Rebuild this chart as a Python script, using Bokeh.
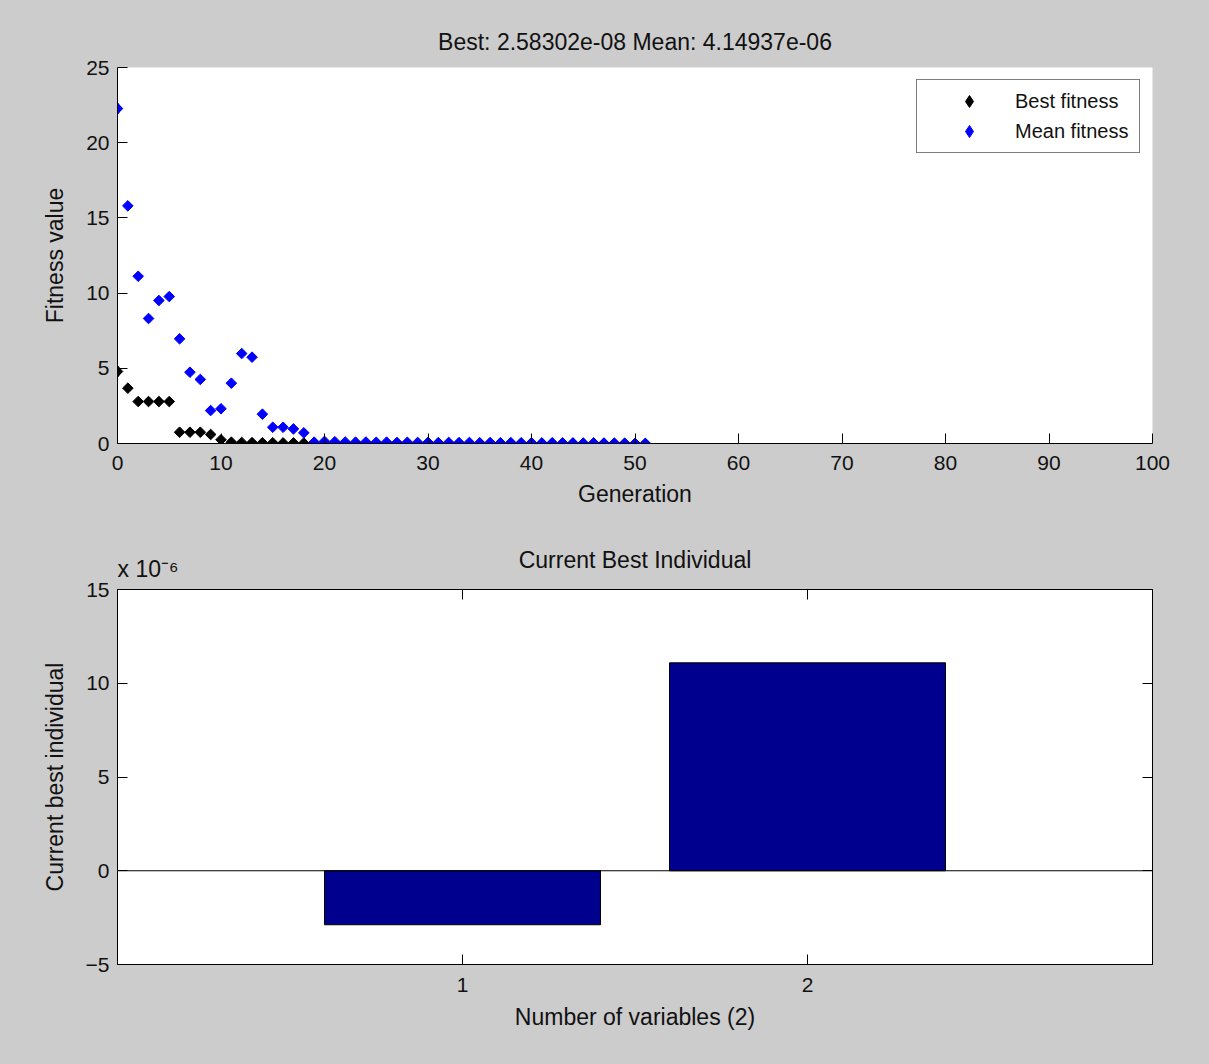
from bokeh.plotting import figure
from bokeh.layouts import column
from bokeh.models import (ColumnDataSource, FixedTicker, LinearAxis, Range1d,
                          Span, Title, Legend, CDSView, IndexFilter)
from bokeh.embed import file_html
from bokeh.resources import INLINE

# ---------------- data ----------------
generations = list(range(0, 52))
best_fitness = [4.79, 3.68, 2.79, 2.79, 2.79, 2.79, 0.75, 0.75, 0.75, 0.60,
                0.25, 0.09, 0.07, 0.06, 0.05, 0.05, 0.04, 0.04, 0.03, 0.02,
                0.02, 0.015, 0.012, 0.01, 0.008, 0.006, 0.005, 0.004, 0.003, 0.002,
                0.0015, 0.001, 0.0008, 0.0006, 0.0005, 0.0004, 0.0003, 0.0002, 0.00015, 0.0001,
                8e-05, 6e-05, 4e-05, 2e-05, 1e-05, 5e-06, 2e-06, 1e-06, 5e-07, 2e-07,
                8e-08, 2.58302e-08]
mean_fitness = [22.27, 15.80, 11.12, 8.31, 9.51, 9.77, 6.96, 4.74, 4.26, 2.19,
                2.31, 4.01, 5.98, 5.74, 1.95, 1.08, 1.08, 0.97, 0.71, 0.09,
                0.14, 0.12, 0.10, 0.09, 0.10, 0.08, 0.09, 0.07, 0.08, 0.07,
                0.08, 0.06, 0.07, 0.06, 0.07, 0.05, 0.06, 0.05, 0.06, 0.05,
                0.05, 0.04, 0.05, 0.04, 0.04, 0.03, 0.04, 0.03, 0.03, 0.02,
                0.01, 4.14937e-06]
variables = [1, 2]
best_individual = [-2.88e-06, 11.09e-06]
top_title = "Best: 2.58302e-08 Mean: 4.14937e-06"
x_ticks_top = [0, 10, 20, 30, 40, 50, 60, 70, 80, 90, 100]
y_ticks_top = [0, 5, 10, 15, 20, 25]
y_ticks_bottom = [-5, 0, 5, 10, 15]

FONT = "Liberation Sans"
TXT = "#111111"
BG = "#cccccc"
FS = "21px"
FSL = "23px"


def style_axis(ax, ticks, labels=True):
    ax.ticker = FixedTicker(ticks=ticks)
    ax.major_tick_in = 10
    ax.major_tick_out = 0
    ax.minor_tick_line_color = None
    ax.major_tick_line_color = "black"
    ax.axis_line_color = "black"
    ax.major_label_text_font = FONT
    ax.major_label_text_color = TXT
    ax.major_label_text_font_size = FS if labels else "0px"
    ax.axis_label_text_font = FONT
    ax.axis_label_text_font_style = "normal"
    ax.axis_label_text_color = TXT
    ax.axis_label_text_font_size = FSL


def style_title(t):
    t.text_font = FONT
    t.text_font_style = "normal"
    t.text_font_size = FSL
    t.text_color = TXT


# ---------------- top plot ----------------
p1 = figure(frame_width=1035, frame_height=376, output_backend="svg",
            toolbar_location=None, x_range=Range1d(0, 100), y_range=Range1d(0, 25),
            min_border_left=117, min_border_right=57, min_border_top=67,
            min_border_bottom=82, background_fill_color="white",
            border_fill_color=BG, outline_line_color=None, title=top_title)
p1.title.align = "center"
style_title(p1.title)
p1.title.standoff = 25
p1.grid.visible = False

src = ColumnDataSource(dict(g=generations, best=best_fitness, mean=mean_fitness))
p1.scatter("g", "best", source=src, marker="square", angle=0.7854,
           size=7.5, color="black")
p1.scatter("g", "mean", source=src, marker="square", angle=0.7854,
           size=7.5, color="#0000ff")
# legend keys: diamond glyphs drawn over the first point of each series
first = CDSView(filter=IndexFilter([0]))
key_best = p1.scatter("g", "best", source=src, view=first, marker="diamond",
                      size=12, color="black")
key_mean = p1.scatter("g", "mean", source=src, view=first, marker="diamond",
                      size=12, color="#0000ff")

style_axis(p1.xaxis[0], x_ticks_top)
style_axis(p1.yaxis[0], y_ticks_top)
p1.xaxis[0].axis_label = "Generation"
p1.yaxis[0].axis_label = "Fitness value"
p1.xaxis[0].major_label_standoff = 12
p1.xaxis[0].axis_label_standoff = 8
p1.yaxis[0].major_label_standoff = 8
p1.yaxis[0].axis_label_standoff = 15

leg = Legend(items=[("Best fitness", [key_best]), ("Mean fitness", [key_mean])],
             location="top_right")
leg.margin = 12
leg.padding = 6
leg.spacing = 0
leg.glyph_width = 92
leg.glyph_height = 30
leg.label_height = 30
leg.label_width = 118
leg.label_standoff = 0
leg.label_text_font = FONT
leg.label_text_font_size = "20px"
leg.label_text_color = TXT
leg.border_line_color = "black"
leg.border_line_width = 1
leg.background_fill_color = "white"
leg.background_fill_alpha = 1
p1.add_layout(leg, "center")

# ---------------- bottom plot ----------------
p2 = figure(frame_width=1035, frame_height=375, output_backend="svg",
            toolbar_location=None, x_range=Range1d(0, 3), y_range=Range1d(-5, 15),
            min_border_left=117, min_border_right=57, min_border_top=64,
            min_border_bottom=100, background_fill_color="white",
            border_fill_color=BG, outline_line_color="black",
            title="Current Best Individual")
p2.title.align = "center"
style_title(p2.title)
p2.title.standoff = -54
p2.grid.visible = False

bsrc = ColumnDataSource(dict(x=variables, y=[v * 1e6 for v in best_individual]))
p2.vbar(x="x", top="y", bottom=0, width=0.8, source=bsrc,
        fill_color="#00008f", line_color="black", line_width=1)
p2.add_layout(Span(location=0, dimension="width", line_color="black", line_width=1))

style_axis(p2.xaxis[0], variables)
style_axis(p2.yaxis[0], y_ticks_bottom)
p2.xaxis[0].axis_label = "Number of variables (2)"
p2.yaxis[0].axis_label = "Current best individual"
p2.xaxis[0].major_label_standoff = 13
p2.xaxis[0].axis_label_standoff = 9
p2.yaxis[0].major_label_standoff = 8
p2.yaxis[0].axis_label_standoff = 15

ax_top = LinearAxis()
style_axis(ax_top, variables, labels=False)
ax_top.major_label_standoff = 0
p2.add_layout(ax_top, "above")
ax_right = LinearAxis()
style_axis(ax_right, y_ticks_bottom, labels=False)
ax_right.major_label_standoff = 0
p2.add_layout(ax_right, "right")

exp_title = Title(text="x 10\u207b\u2076", align="left", standoff=16)
style_title(exp_title)
p2.add_layout(exp_title, "above")

layout = column(p1, p2, spacing=0, styles={"background-color": BG})
open("out.html", "w").write(file_html(layout, INLINE))
